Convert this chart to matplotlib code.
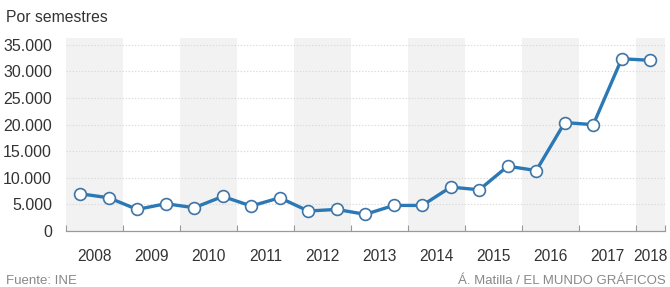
import matplotlib
matplotlib.use("Agg")
import matplotlib.pyplot as plt
import numpy as np

plt.rcParams['font.family'] = ['Liberation Sans', 'DejaVu Sans']

# Data: semesters 2008-H1 .. 2018-H1
semesters = ["2008-1", "2008-2", "2009-1", "2009-2", "2010-1", "2010-2",
             "2011-1", "2011-2", "2012-1", "2012-2", "2013-1", "2013-2",
             "2014-1", "2014-2", "2015-1", "2015-2", "2016-1", "2016-2",
             "2017-1", "2017-2", "2018-1"]
values = [7000, 6250, 4060, 5130, 4380, 6500, 4700, 6250, 3760, 4060,
          3130, 4810, 4810, 8260, 7750, 12190, 11370, 20400, 20000,
          32400, 32100]
years = [2008, 2009, 2010, 2011, 2012, 2013, 2014, 2015, 2016, 2017, 2018]
yticks = [0, 5000, 10000, 15000, 20000, 25000, 30000, 35000]
ytick_labels = ["0", "5.000", "10.000", "15.000", "20.000", "25.000", "30.000", "35.000"]

def sem_pos(s):
    y, h = s.split("-")
    return int(y) + (0.25 if h == "1" else 0.75)

x = [sem_pos(s) for s in semesters]
x_start, x_end = 2008, 2018.5

fig = plt.figure(figsize=(6.7, 2.87), dpi=100)
ax = fig.add_axes([66/670, (287-231)/287, (664.5-66)/670, (231-38)/287])

# shaded alternate year bands
for yr in years:
    if (yr - 2008) % 2 == 0:
        ax.axvspan(yr, min(yr + 1, x_end), color="#f2f2f2", lw=0, zorder=0)

# horizontal dotted gridlines
for t in yticks[1:]:
    ax.axhline(t, color="#dadada", lw=0.8, ls=(0, (1.2, 1.6)), zorder=1)

ax.plot(x, values, color="#2b78b6", lw=2.4, zorder=3, solid_joinstyle="round",
        marker="o", markersize=8.5, markerfacecolor="white",
        markeredgecolor="#3f74a6", markeredgewidth=1.2)

ax.set_xlim(x_start, x_end)
ax.set_ylim(0, 36300)

for s in ["top", "right", "left"]:
    ax.spines[s].set_visible(False)
ax.spines["bottom"].set_color("#999999")
ax.spines["bottom"].set_linewidth(0.9)

# minor ticks every half-year on the baseline, pointing up
ax.set_xticks(np.arange(x_start, x_end + 0.01, 0.5), minor=True)
ax.tick_params(axis="x", which="minor", direction="in", length=4, width=0.8, color="#999999")
label_pos = [min(yr + 0.5, (yr + x_end) / 2) for yr in years]
ax.set_xticks(label_pos)
ax.set_xticklabels([str(y) for y in years])
ax.tick_params(axis="x", which="major", length=0, pad=13, labelsize=11.2, labelcolor="#333333")

ax.set_yticks(yticks)
ax.set_yticklabels(ytick_labels)
ax.tick_params(axis="y", length=0, pad=10, labelsize=11.5, labelcolor="#333333")

fig.text(6/670, 1 - 18/287, "Por semestres", fontsize=11.3, color="#333333", ha="left", va="center")
fig.text(6/670, 1 - 281/287, "Fuente: INE", fontsize=9.5, color="#888888", ha="left", va="center")
fig.text(666/670, 1 - 281/287, "Á. Matilla / EL MUNDO GRÁFICOS", fontsize=9.5, color="#888888",
         ha="right", va="center")

fig.savefig("out.png", dpi=100)
